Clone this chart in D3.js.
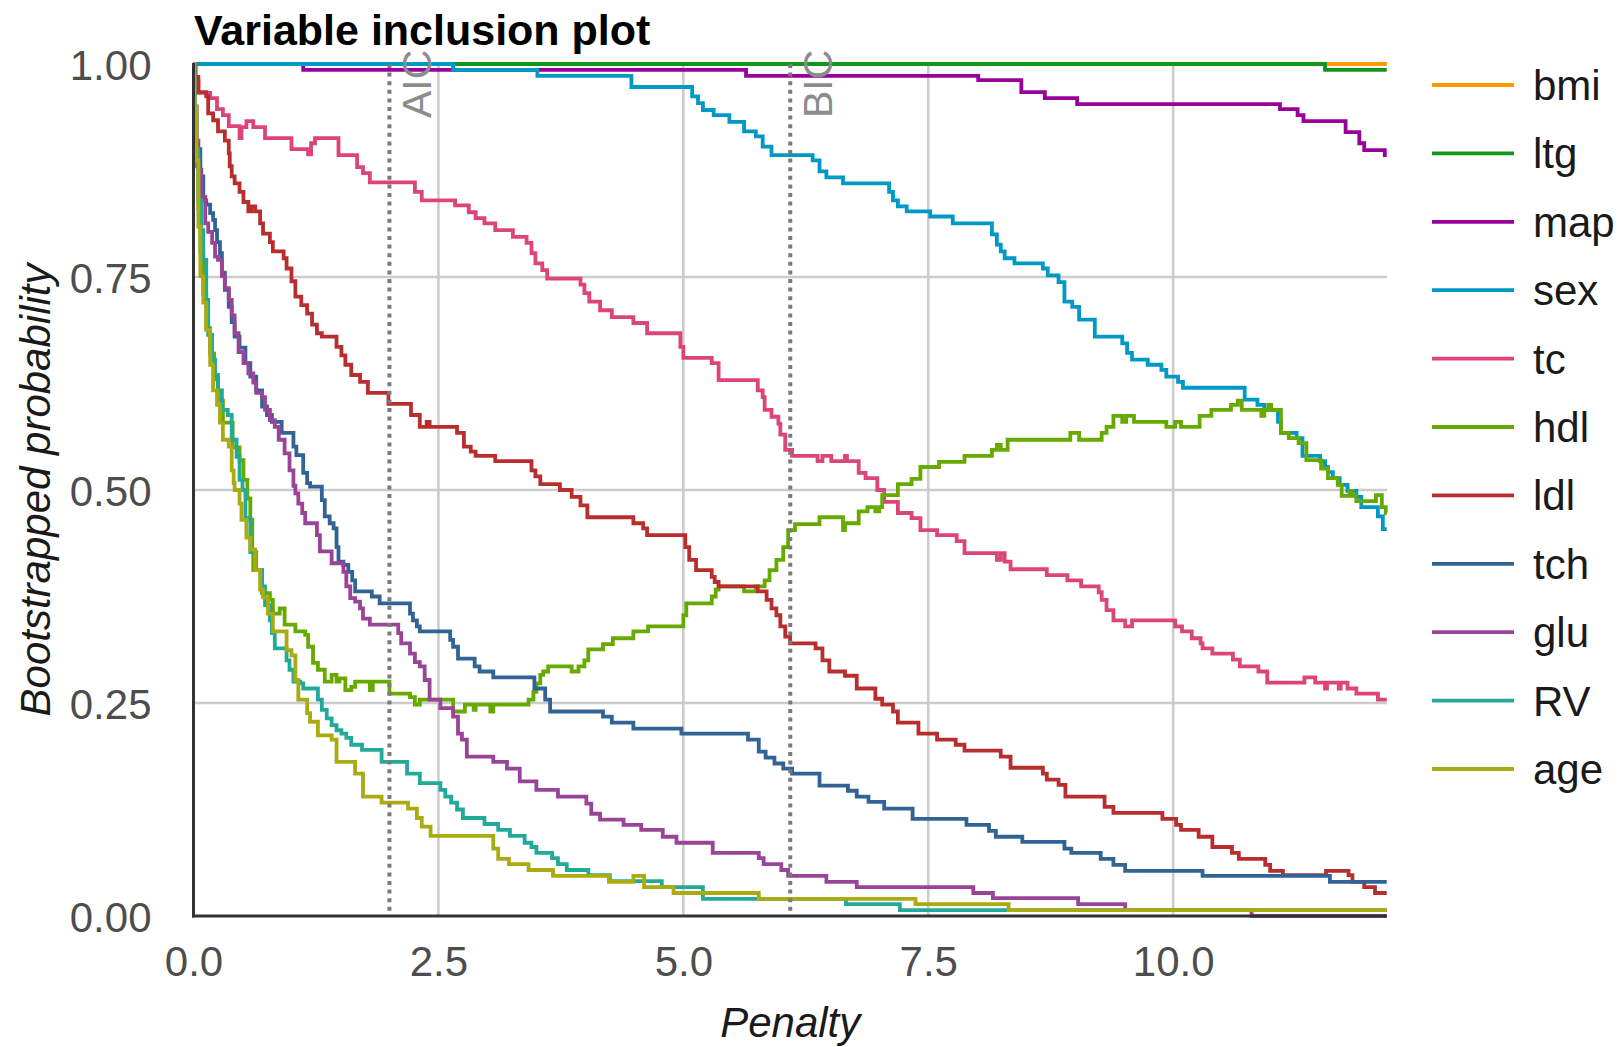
<!DOCTYPE html>
<html>
<head>
<meta charset="utf-8">
<script src="https://cdn.jsdelivr.net/npm/d3@7"></script>
<style>
  html, body { margin: 0; padding: 0; background: #ffffff; }
  svg { display: block; font-family: "Liberation Sans", Arial, Helvetica, sans-serif; }
</style>
</head>
<body>
<svg id="chart" width="1621" height="1047"></svg>
<script>
// Variable inclusion plot: bootstrapped probability that each variable is
// selected, as a function of the penalty on model size (diabetes data, n = 442).

const n = 442;
const penaltyMax = 2 * Math.log(n);          // right end of the penalty axis
const aicPenalty = 2;
const bicPenalty = Math.log(n);

const variables = ["bmi", "ltg", "map", "sex", "tc", "hdl", "ldl", "tch", "glu", "RV", "age"];
const colors = ["#FF9900", "#109618", "#990099", "#0099C6", "#DD4477", "#66AA00",
                "#B82E2E", "#316395", "#994499", "#22AA99", "#AAAA11"];

const xTicks = [0, 2.5, 5, 7.5, 10];
const xTickLabels = ["0.0", "2.5", "5.0", "7.5", "10.0"];
const yTicks = [0, 0.25, 0.5, 0.75, 1];
const yTickLabels = ["0.00", "0.25", "0.50", "0.75", "1.00"];

// Each series: [penalty, probability] at the points where the step changes.
const bmi = [[0, 1], [12.18, 1]];

const ltg = [[0, 1], [11.55, 0.993], [12.18, 0.993]];

const map = [[0, 1], [1.12, 0.993], [5.64, 0.986], [8.01, 0.981], [8.45, 0.967], [8.69, 0.96],
  [9.02, 0.953], [11.09, 0.947], [11.27, 0.94], [11.33, 0.933], [11.76, 0.92], [11.9, 0.907],
  [11.95, 0.899], [12.16, 0.893], [12.18, 0.893]];

const sex = [[0, 1], [2.65, 0.993], [3.51, 0.986], [4.47, 0.973], [5.09, 0.962], [5.15, 0.954],
  [5.2, 0.946], [5.31, 0.94], [5.47, 0.932], [5.62, 0.921], [5.74, 0.915], [5.81, 0.903],
  [5.9, 0.893], [6.32, 0.887], [6.39, 0.874], [6.46, 0.867], [6.63, 0.86], [7.1, 0.85],
  [7.14, 0.84], [7.19, 0.833], [7.28, 0.827], [7.52, 0.821], [7.75, 0.813], [8.15, 0.8],
  [8.2, 0.788], [8.24, 0.78], [8.28, 0.772], [8.38, 0.766], [8.67, 0.76], [8.72, 0.752],
  [8.83, 0.744], [8.89, 0.721], [8.97, 0.715], [9.04, 0.7], [9.2, 0.68], [9.48, 0.672],
  [9.53, 0.661], [9.58, 0.653], [9.74, 0.647], [9.88, 0.641], [9.93, 0.633], [10.05, 0.627],
  [10.1, 0.62], [10.73, 0.606], [10.86, 0.6], [10.93, 0.594], [11.07, 0.58], [11.1, 0.567],
  [11.26, 0.561], [11.32, 0.54], [11.5, 0.534], [11.55, 0.527], [11.58, 0.521], [11.63, 0.514],
  [11.7, 0.506], [11.78, 0.499], [11.87, 0.492], [11.92, 0.48], [12.09, 0.469], [12.14, 0.454],
  [12.18, 0.454]];

const tc = [[0, 1], [0.02, 0.98], [0.05, 0.966], [0.17, 0.96], [0.24, 0.947], [0.3, 0.94],
  [0.36, 0.927], [0.47, 0.913], [0.49, 0.926], [0.54, 0.933], [0.61, 0.926], [0.73, 0.913],
  [1.0, 0.9], [1.17, 0.894], [1.2, 0.907], [1.24, 0.913], [1.48, 0.893], [1.67, 0.879],
  [1.73, 0.872], [1.8, 0.861], [2.26, 0.85], [2.33, 0.84], [2.67, 0.834], [2.81, 0.826],
  [2.88, 0.819], [2.97, 0.813], [3.08, 0.805], [3.26, 0.797], [3.4, 0.79], [3.45, 0.778],
  [3.49, 0.766], [3.56, 0.758], [3.61, 0.748], [3.95, 0.741], [3.99, 0.731], [4.04, 0.721],
  [4.15, 0.711], [4.27, 0.703], [4.49, 0.696], [4.63, 0.684], [4.97, 0.668], [5.0, 0.655],
  [5.29, 0.649], [5.36, 0.629], [5.76, 0.617], [5.81, 0.609], [5.83, 0.594], [5.9, 0.586],
  [5.97, 0.578], [5.99, 0.565], [6.04, 0.547], [6.11, 0.54], [6.37, 0.534], [6.42, 0.54],
  [6.51, 0.534], [6.65, 0.54], [6.67, 0.534], [6.79, 0.52], [6.86, 0.514], [6.98, 0.5],
  [7.05, 0.486], [7.19, 0.473], [7.33, 0.467], [7.42, 0.453], [7.59, 0.447], [7.79, 0.44],
  [7.87, 0.426], [8.2, 0.418], [8.24, 0.426], [8.28, 0.416], [8.34, 0.407], [8.71, 0.4],
  [8.92, 0.394], [9.06, 0.387], [9.24, 0.38], [9.27, 0.371], [9.32, 0.359], [9.39, 0.347],
  [9.51, 0.34], [9.58, 0.347], [10.02, 0.34], [10.09, 0.334], [10.19, 0.326], [10.28, 0.32],
  [10.3, 0.314], [10.4, 0.308], [10.61, 0.301], [10.68, 0.293], [10.87, 0.287], [10.96, 0.274],
  [11.34, 0.28], [11.45, 0.274], [11.55, 0.267], [11.57, 0.274], [11.69, 0.267], [11.71, 0.274],
  [11.78, 0.267], [11.87, 0.261], [12.09, 0.254], [12.18, 0.254]];

const hdl = [[0, 1], [0.01, 0.94], [0.03, 0.88], [0.05, 0.83], [0.07, 0.78], [0.1, 0.73],
  [0.13, 0.69], [0.17, 0.66], [0.21, 0.63], [0.25, 0.605], [0.3, 0.579], [0.4, 0.55],
  [0.47, 0.535], [0.51, 0.512], [0.55, 0.49], [0.58, 0.465], [0.6, 0.43], [0.61, 0.406],
  [0.7, 0.379], [0.78, 0.371], [0.81, 0.355], [0.88, 0.361], [0.93, 0.342], [1.04, 0.334],
  [1.14, 0.33], [1.17, 0.316], [1.22, 0.297], [1.27, 0.289], [1.34, 0.275], [1.41, 0.283],
  [1.46, 0.275], [1.49, 0.279], [1.55, 0.265], [1.61, 0.269], [1.65, 0.275], [1.8, 0.265],
  [1.83, 0.275], [2.0, 0.261], [2.21, 0.257], [2.26, 0.248], [2.31, 0.254], [2.65, 0.24],
  [2.77, 0.248], [2.86, 0.242], [2.88, 0.248], [3.03, 0.24], [3.06, 0.248], [3.42, 0.254],
  [3.47, 0.263], [3.5, 0.273], [3.54, 0.283], [3.57, 0.287], [3.62, 0.293], [3.86, 0.287],
  [3.93, 0.293], [3.99, 0.3], [4.03, 0.313], [4.18, 0.319], [4.28, 0.326], [4.49, 0.334],
  [4.64, 0.34], [5.0, 0.353], [5.03, 0.367], [5.29, 0.375], [5.33, 0.383], [5.36, 0.387],
  [5.62, 0.381], [5.74, 0.387], [5.83, 0.394], [5.88, 0.406], [5.95, 0.418], [6.02, 0.433],
  [6.07, 0.453], [6.14, 0.46], [6.39, 0.468], [6.63, 0.453], [6.65, 0.461], [6.79, 0.475],
  [6.88, 0.48], [6.96, 0.475], [7.0, 0.48], [7.03, 0.494], [7.19, 0.507], [7.33, 0.513],
  [7.42, 0.527], [7.61, 0.533], [7.87, 0.54], [8.15, 0.547], [8.2, 0.553], [8.24, 0.547],
  [8.31, 0.559], [8.95, 0.567], [9.04, 0.559], [9.27, 0.567], [9.32, 0.574], [9.39, 0.587],
  [9.48, 0.58], [9.52, 0.587], [9.6, 0.58], [9.93, 0.574], [10.02, 0.58], [10.08, 0.574],
  [10.27, 0.587], [10.39, 0.594], [10.59, 0.6], [10.66, 0.605], [10.7, 0.594], [10.9, 0.587],
  [10.93, 0.594], [10.97, 0.6], [11.0, 0.594], [11.1, 0.567], [11.18, 0.561], [11.28, 0.555],
  [11.36, 0.535], [11.51, 0.525], [11.58, 0.514], [11.68, 0.506], [11.72, 0.493], [11.8, 0.499],
  [11.83, 0.493], [11.87, 0.487], [12.07, 0.494], [12.13, 0.48], [12.17, 0.473], [12.18, 0.473]];

const ldl = [[0, 1], [0.02, 0.985], [0.05, 0.967], [0.13, 0.962], [0.15, 0.942], [0.2, 0.934],
  [0.25, 0.921], [0.32, 0.91], [0.36, 0.895], [0.37, 0.88], [0.39, 0.868], [0.42, 0.86],
  [0.47, 0.85], [0.51, 0.838], [0.56, 0.827], [0.59, 0.833], [0.63, 0.827], [0.68, 0.813],
  [0.71, 0.801], [0.78, 0.791], [0.81, 0.78], [0.92, 0.772], [0.95, 0.76], [1.0, 0.745],
  [1.04, 0.727], [1.1, 0.717], [1.16, 0.707], [1.21, 0.694], [1.26, 0.684], [1.31, 0.68],
  [1.46, 0.668], [1.51, 0.658], [1.55, 0.647], [1.61, 0.635], [1.7, 0.627], [1.78, 0.614],
  [1.99, 0.601], [2.22, 0.588], [2.31, 0.574], [2.38, 0.58], [2.41, 0.574], [2.69, 0.567],
  [2.76, 0.551], [2.83, 0.545], [2.88, 0.54], [3.08, 0.534], [3.45, 0.523], [3.49, 0.516],
  [3.54, 0.507], [3.74, 0.5], [3.86, 0.492], [3.95, 0.482], [4.02, 0.468], [4.49, 0.461],
  [4.59, 0.455], [4.63, 0.447], [5.02, 0.433], [5.06, 0.418], [5.13, 0.406], [5.29, 0.398],
  [5.32, 0.392], [5.36, 0.387], [5.76, 0.381], [5.85, 0.371], [5.9, 0.361], [5.95, 0.353],
  [5.99, 0.34], [6.04, 0.328], [6.09, 0.32], [6.35, 0.314], [6.42, 0.3], [6.49, 0.287],
  [6.65, 0.282], [6.77, 0.267], [6.96, 0.255], [7.03, 0.248], [7.14, 0.24], [7.19, 0.227],
  [7.4, 0.214], [7.59, 0.207], [7.78, 0.201], [7.87, 0.194], [8.24, 0.187], [8.34, 0.174],
  [8.67, 0.167], [8.71, 0.16], [8.83, 0.154], [8.9, 0.14], [9.3, 0.128], [9.39, 0.121],
  [9.89, 0.114], [10.03, 0.107], [10.08, 0.101], [10.26, 0.093], [10.4, 0.081], [10.6, 0.074],
  [10.67, 0.067], [10.94, 0.06], [10.99, 0.053], [11.12, 0.048], [11.56, 0.053], [11.79, 0.048],
  [11.83, 0.04], [11.95, 0.034], [12.06, 0.027], [12.18, 0.027]];

const tch = [[0, 1], [0.01, 0.95], [0.03, 0.9], [0.07, 0.868], [0.1, 0.84], [0.13, 0.835],
  [0.17, 0.825], [0.2, 0.817], [0.22, 0.805], [0.24, 0.791], [0.27, 0.778], [0.29, 0.755],
  [0.32, 0.735], [0.36, 0.715], [0.39, 0.697], [0.42, 0.68], [0.47, 0.667], [0.53, 0.649],
  [0.58, 0.633], [0.64, 0.617], [0.7, 0.598], [0.75, 0.588], [0.8, 0.58], [0.9, 0.567],
  [1.02, 0.551], [1.05, 0.541], [1.12, 0.52], [1.16, 0.508], [1.19, 0.504], [1.31, 0.488],
  [1.34, 0.469], [1.39, 0.461], [1.43, 0.455], [1.46, 0.433], [1.48, 0.416], [1.53, 0.412],
  [1.58, 0.404], [1.62, 0.394], [1.65, 0.381], [1.82, 0.375], [1.9, 0.367], [2.21, 0.355],
  [2.24, 0.347], [2.28, 0.34], [2.31, 0.334], [2.62, 0.324], [2.65, 0.316], [2.7, 0.302],
  [2.87, 0.293], [2.92, 0.287], [3.06, 0.28], [3.48, 0.267], [3.59, 0.254], [3.64, 0.24],
  [4.18, 0.234], [4.27, 0.227], [4.49, 0.22], [4.98, 0.214], [5.66, 0.207], [5.77, 0.193],
  [5.84, 0.186], [5.93, 0.179], [6.02, 0.173], [6.11, 0.167], [6.39, 0.153], [6.68, 0.147],
  [6.77, 0.14], [6.89, 0.134], [7.05, 0.126], [7.34, 0.114], [7.89, 0.107], [8.12, 0.1],
  [8.19, 0.093], [8.46, 0.087], [8.89, 0.079], [8.96, 0.074], [9.26, 0.067], [9.39, 0.06],
  [9.51, 0.053], [10.3, 0.047], [11.6, 0.04], [12.18, 0.04]];

const glu = [[0, 1], [0.01, 0.95], [0.03, 0.91], [0.05, 0.876], [0.08, 0.844], [0.12, 0.813],
  [0.15, 0.803], [0.19, 0.79], [0.22, 0.774], [0.25, 0.77], [0.29, 0.751], [0.32, 0.737],
  [0.36, 0.723], [0.39, 0.705], [0.42, 0.684], [0.46, 0.662], [0.51, 0.649], [0.56, 0.637],
  [0.61, 0.626], [0.64, 0.614], [0.7, 0.609], [0.73, 0.594], [0.78, 0.582], [0.83, 0.574],
  [0.87, 0.559], [0.93, 0.543], [0.98, 0.523], [1.02, 0.505], [1.04, 0.496], [1.07, 0.484],
  [1.11, 0.473], [1.14, 0.461], [1.26, 0.447], [1.29, 0.428], [1.41, 0.414], [1.53, 0.404],
  [1.56, 0.387], [1.6, 0.373], [1.65, 0.369], [1.7, 0.361], [1.73, 0.349], [1.8, 0.342],
  [2.09, 0.332], [2.12, 0.32], [2.21, 0.308], [2.26, 0.298], [2.31, 0.293], [2.36, 0.277],
  [2.41, 0.254], [2.52, 0.244], [2.65, 0.234], [2.7, 0.214], [2.74, 0.207], [2.79, 0.187],
  [3.06, 0.181], [3.2, 0.173], [3.33, 0.158], [3.5, 0.148], [3.72, 0.14], [4.01, 0.132],
  [4.06, 0.12], [4.15, 0.113], [4.39, 0.107], [4.57, 0.101], [4.79, 0.093], [4.93, 0.086],
  [5.3, 0.074], [5.77, 0.068], [5.82, 0.061], [6.0, 0.054], [6.07, 0.047], [6.46, 0.04],
  [6.77, 0.034], [7.96, 0.027], [8.16, 0.021], [9.03, 0.014], [9.51, 0.007], [10.8, 0],
  [12.18, 0]];

const RV = [[0, 1], [0.01, 0.93], [0.02, 0.9], [0.05, 0.84], [0.08, 0.805], [0.1, 0.77],
  [0.13, 0.723], [0.15, 0.682], [0.19, 0.653], [0.22, 0.635], [0.25, 0.617], [0.29, 0.594],
  [0.35, 0.588], [0.39, 0.559], [0.44, 0.539], [0.47, 0.512], [0.5, 0.5], [0.53, 0.467],
  [0.58, 0.427], [0.64, 0.406], [0.7, 0.387], [0.73, 0.365], [0.78, 0.347], [0.8, 0.332],
  [0.83, 0.314], [0.95, 0.3], [0.98, 0.289], [1.02, 0.275], [1.09, 0.273], [1.12, 0.267],
  [1.27, 0.254], [1.31, 0.242], [1.36, 0.232], [1.41, 0.224], [1.46, 0.218], [1.51, 0.214],
  [1.56, 0.209], [1.61, 0.201], [1.72, 0.195], [1.92, 0.181], [2.18, 0.167], [2.31, 0.156],
  [2.52, 0.148], [2.57, 0.14], [2.63, 0.133], [2.69, 0.125], [2.75, 0.115], [2.97, 0.108],
  [3.11, 0.101], [3.23, 0.094], [3.38, 0.086], [3.45, 0.081], [3.5, 0.074], [3.66, 0.068],
  [3.72, 0.061], [3.81, 0.054], [4.03, 0.048], [4.25, 0.041], [4.78, 0.034], [5.2, 0.02],
  [6.66, 0.014], [7.21, 0.007], [12.18, 0.007]];

const age = [[0, 1], [0.01, 0.95], [0.03, 0.887], [0.05, 0.809], [0.07, 0.751], [0.1, 0.72],
  [0.13, 0.688], [0.17, 0.647], [0.2, 0.617], [0.24, 0.6], [0.27, 0.579], [0.3, 0.559],
  [0.36, 0.551], [0.39, 0.523], [0.41, 0.508], [0.42, 0.5], [0.47, 0.484], [0.49, 0.465],
  [0.54, 0.444], [0.58, 0.43], [0.63, 0.406], [0.68, 0.383], [0.71, 0.374], [0.76, 0.355],
  [0.81, 0.334], [0.95, 0.312], [1.0, 0.306], [1.04, 0.277], [1.07, 0.254], [1.16, 0.238],
  [1.19, 0.228], [1.27, 0.212], [1.41, 0.207], [1.46, 0.181], [1.65, 0.167], [1.73, 0.14],
  [1.92, 0.133], [2.19, 0.126], [2.28, 0.115], [2.33, 0.105], [2.42, 0.094], [3.06, 0.079],
  [3.11, 0.067], [3.22, 0.061], [3.42, 0.054], [3.67, 0.047], [4.24, 0.04], [4.49, 0.047],
  [4.6, 0.034], [4.9, 0.027], [5.77, 0.02], [7.37, 0.014], [8.32, 0.007], [12.18, 0.007]];

const seriesValues = [bmi, ltg, map, sex, tc, hdl, ldl, tch, glu, RV, age];

// ---- layout ----
const plot = { left: 193.5, right: 1387, top: 64, bottom: 916 };
const font = '"Liberation Sans", Arial, Helvetica, sans-serif';

const svg = d3.select("#chart");

const x = d3.scaleLinear().domain([0, penaltyMax]).range([plot.left, plot.right]);
const y = d3.scaleLinear().domain([0, 1]).range([plot.bottom, plot.top]);

// grid
const grid = svg.append("g").attr("class", "grid")
  .attr("stroke", "#cccccc").attr("stroke-width", 2.6);
grid.selectAll("line.gx").data(xTicks.filter(d => d > 0)).join("line")
  .attr("class", "gx")
  .attr("x1", d => x(d)).attr("x2", d => x(d))
  .attr("y1", plot.top).attr("y2", plot.bottom);
grid.selectAll("line.gy").data(yTicks.filter(d => d > 0)).join("line")
  .attr("class", "gy")
  .attr("x1", plot.left).attr("x2", plot.right)
  .attr("y1", d => y(d)).attr("y2", d => y(d));

// axes (labels only, no tick marks)
const xAxis = d3.axisBottom(x).tickValues(xTicks)
  .tickFormat((d, i) => xTickLabels[i]).tickSize(0).tickPadding(30);
const gx = svg.append("g").attr("transform", `translate(0,${plot.bottom})`).call(xAxis);
gx.select(".domain").remove();
gx.selectAll("text").attr("font-family", font).attr("font-size", 42)
  .attr("fill", "#4d4d4d").attr("dy", "0.71em").attr("y", 30);

const yAxis = d3.axisLeft(y).tickValues(yTicks)
  .tickFormat((d, i) => yTickLabels[i]).tickSize(0).tickPadding(42);
const gy = svg.append("g").attr("transform", `translate(${plot.left},0)`).call(yAxis);
gy.select(".domain").remove();
gy.selectAll("text").attr("font-family", font).attr("font-size", 42)
  .attr("fill", "#4d4d4d").attr("x", -42).attr("dy", "0.36em");

// series, drawn in legend order so later variables sit on top
const line = d3.line()
  .x(d => x(d[0]))
  .y(d => y(d[1]))
  .curve(d3.curveStepAfter);

svg.append("g").attr("class", "series")
  .selectAll("path").data(seriesValues).join("path")
  .attr("d", line)
  .attr("fill", "none")
  .attr("stroke", (d, i) => colors[i])
  .attr("stroke-width", 3.8);

// information criterion reference lines
const refs = [{ label: "AIC", value: aicPenalty }, { label: "BIC", value: bicPenalty }];
const refG = svg.append("g").attr("class", "refs");
refG.selectAll("line").data(refs).join("line")
  .attr("x1", d => x(d.value)).attr("x2", d => x(d.value))
  .attr("y1", plot.top).attr("y2", plot.bottom)
  .attr("stroke", "#7a7a7a").attr("stroke-width", 4)
  .attr("stroke-dasharray", "4,4.6");
refG.selectAll("text").data(refs).join("text")
  .attr("transform", d => `translate(${x(d.value) + 42},118) rotate(-90)`)
  .attr("font-family", font).attr("font-size", 41)
  .attr("fill", "#8c8c8c")
  .text(d => d.label);

// axis lines
svg.append("line")
  .attr("x1", plot.left).attr("x2", plot.left)
  .attr("y1", plot.top - 1).attr("y2", plot.bottom + 1.5)
  .attr("stroke", "#333333").attr("stroke-width", 3);
svg.append("line")
  .attr("x1", plot.left - 1.5).attr("x2", plot.right)
  .attr("y1", plot.bottom).attr("y2", plot.bottom)
  .attr("stroke", "#333333").attr("stroke-width", 3);

// titles
svg.append("text")
  .attr("x", 194).attr("y", 45)
  .attr("font-family", font).attr("font-size", 43).attr("font-weight", "bold")
  .attr("fill", "#000000")
  .text("Variable inclusion plot");

svg.append("text")
  .attr("x", (plot.left + plot.right) / 2).attr("y", 1037)
  .attr("text-anchor", "middle")
  .attr("font-family", font).attr("font-size", 42).attr("font-style", "italic")
  .attr("fill", "#1a1a1a")
  .text("Penalty");

svg.append("text")
  .attr("transform", `translate(50,${(plot.top + plot.bottom) / 2}) rotate(-90)`)
  .attr("text-anchor", "middle")
  .attr("font-family", font).attr("font-size", 42).attr("font-style", "italic")
  .attr("fill", "#1a1a1a")
  .text("Bootstrapped probability");

// legend
const legend = svg.append("g").attr("class", "legend");
const legendTop = 85, legendStep = 68.4;
const rows = legend.selectAll("g").data(variables).join("g")
  .attr("transform", (d, i) => `translate(0,${legendTop + i * legendStep})`);
rows.append("line")
  .attr("x1", 1432).attr("x2", 1514).attr("y1", 0).attr("y2", 0)
  .attr("stroke", (d, i) => colors[i]).attr("stroke-width", 3.8);
rows.append("text")
  .attr("x", 1533).attr("y", 15)
  .attr("font-family", font).attr("font-size", 42)
  .attr("fill", "#1a1a1a")
  .text(d => d);
</script>
</body>
</html>
